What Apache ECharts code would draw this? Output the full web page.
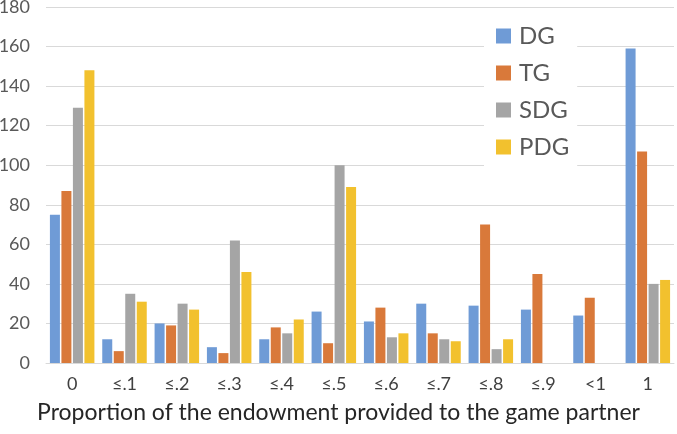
<!DOCTYPE html>
<html><head><meta charset="utf-8">
<script src="https://cdn.jsdelivr.net/npm/echarts@6/dist/echarts.min.js"></script>
<style>html,body{margin:0;padding:0;background:#fff}#c{width:677px;height:434px}</style>
</head><body><div id="c"></div>
<script>
const categories = ['0','≤.1','≤.2','≤.3','≤.4','≤.5','≤.6','≤.7','≤.8','≤.9','<1','1'];
const seriesNames = ['DG','TG','SDG','PDG'];
const dg  = [75, 12, 20, 8, 12, 26, 21, 30, 29, 27, 24, 159];
const tg  = [87, 6, 19, 5, 18, 10, 28, 15, 70, 45, 33, 107];
const sdg = [129, 35, 30, 62, 15, 100, 13, 12, 7, null, null, 40];
const pdg = [148, 31, 27, 46, 22, 89, 15, 11, 12, null, null, 42];
const yTicks = [0, 20, 40, 60, 80, 100, 120, 140, 160, 180];
const xTitle = 'Proportion of the endowment provided to the game partner';
const colors = ['#6F9BD6', '#D9793A', '#A5A5A5', '#F2C12E'];
const FONT = 'Lato';
const values = [dg, tg, sdg, pdg];
const chart = echarts.init(document.getElementById('c'), null, {renderer: 'canvas'});
chart.setOption({
  animation: false,
  textStyle: {fontFamily: FONT},
  title: {
    text: xTitle, left: 'center', top: 401, padding: 0,
    textStyle: {fontFamily: FONT, fontSize: 23, fontWeight: 'normal', color: '#262626'}
  },
  grid: {left: 46, right: 3, top: 7, bottom: 71, containLabel: false, outerBoundsMode: 'none'},
  legend: {
    orient: 'vertical', left: 484, top: 12,
    padding: [12, 8, 10, 12],
    backgroundColor: '#fff',
    icon: 'rect', itemWidth: 15, itemHeight: 15, itemGap: 13,
    textStyle: {fontFamily: FONT, fontSize: 24, color: '#595959', lineHeight: 23, padding: [0, 0, 0, 3]},
    data: seriesNames
  },
  xAxis: {
    type: 'category', data: categories,
    axisLine: {lineStyle: {color: '#D9D9D9', width: 1}},
    axisTick: {show: false},
    axisLabel: {fontFamily: FONT, fontSize: 18, color: '#404040', margin: 12}
  },
  yAxis: {
    type: 'value', min: yTicks[0], max: yTicks[yTicks.length - 1], interval: 20,
    axisLine: {show: false}, axisTick: {show: false},
    splitLine: {lineStyle: {color: '#D9D9D9', width: 1}},
    axisLabel: {fontFamily: FONT, fontSize: 18, color: '#595959', margin: 16}
  },
  series: seriesNames.map((n, i) => ({
    name: n, type: 'bar', data: values[i],
    barWidth: 10, barGap: '15%',
    itemStyle: {color: colors[i]}
  }))
});
</script></body></html>
